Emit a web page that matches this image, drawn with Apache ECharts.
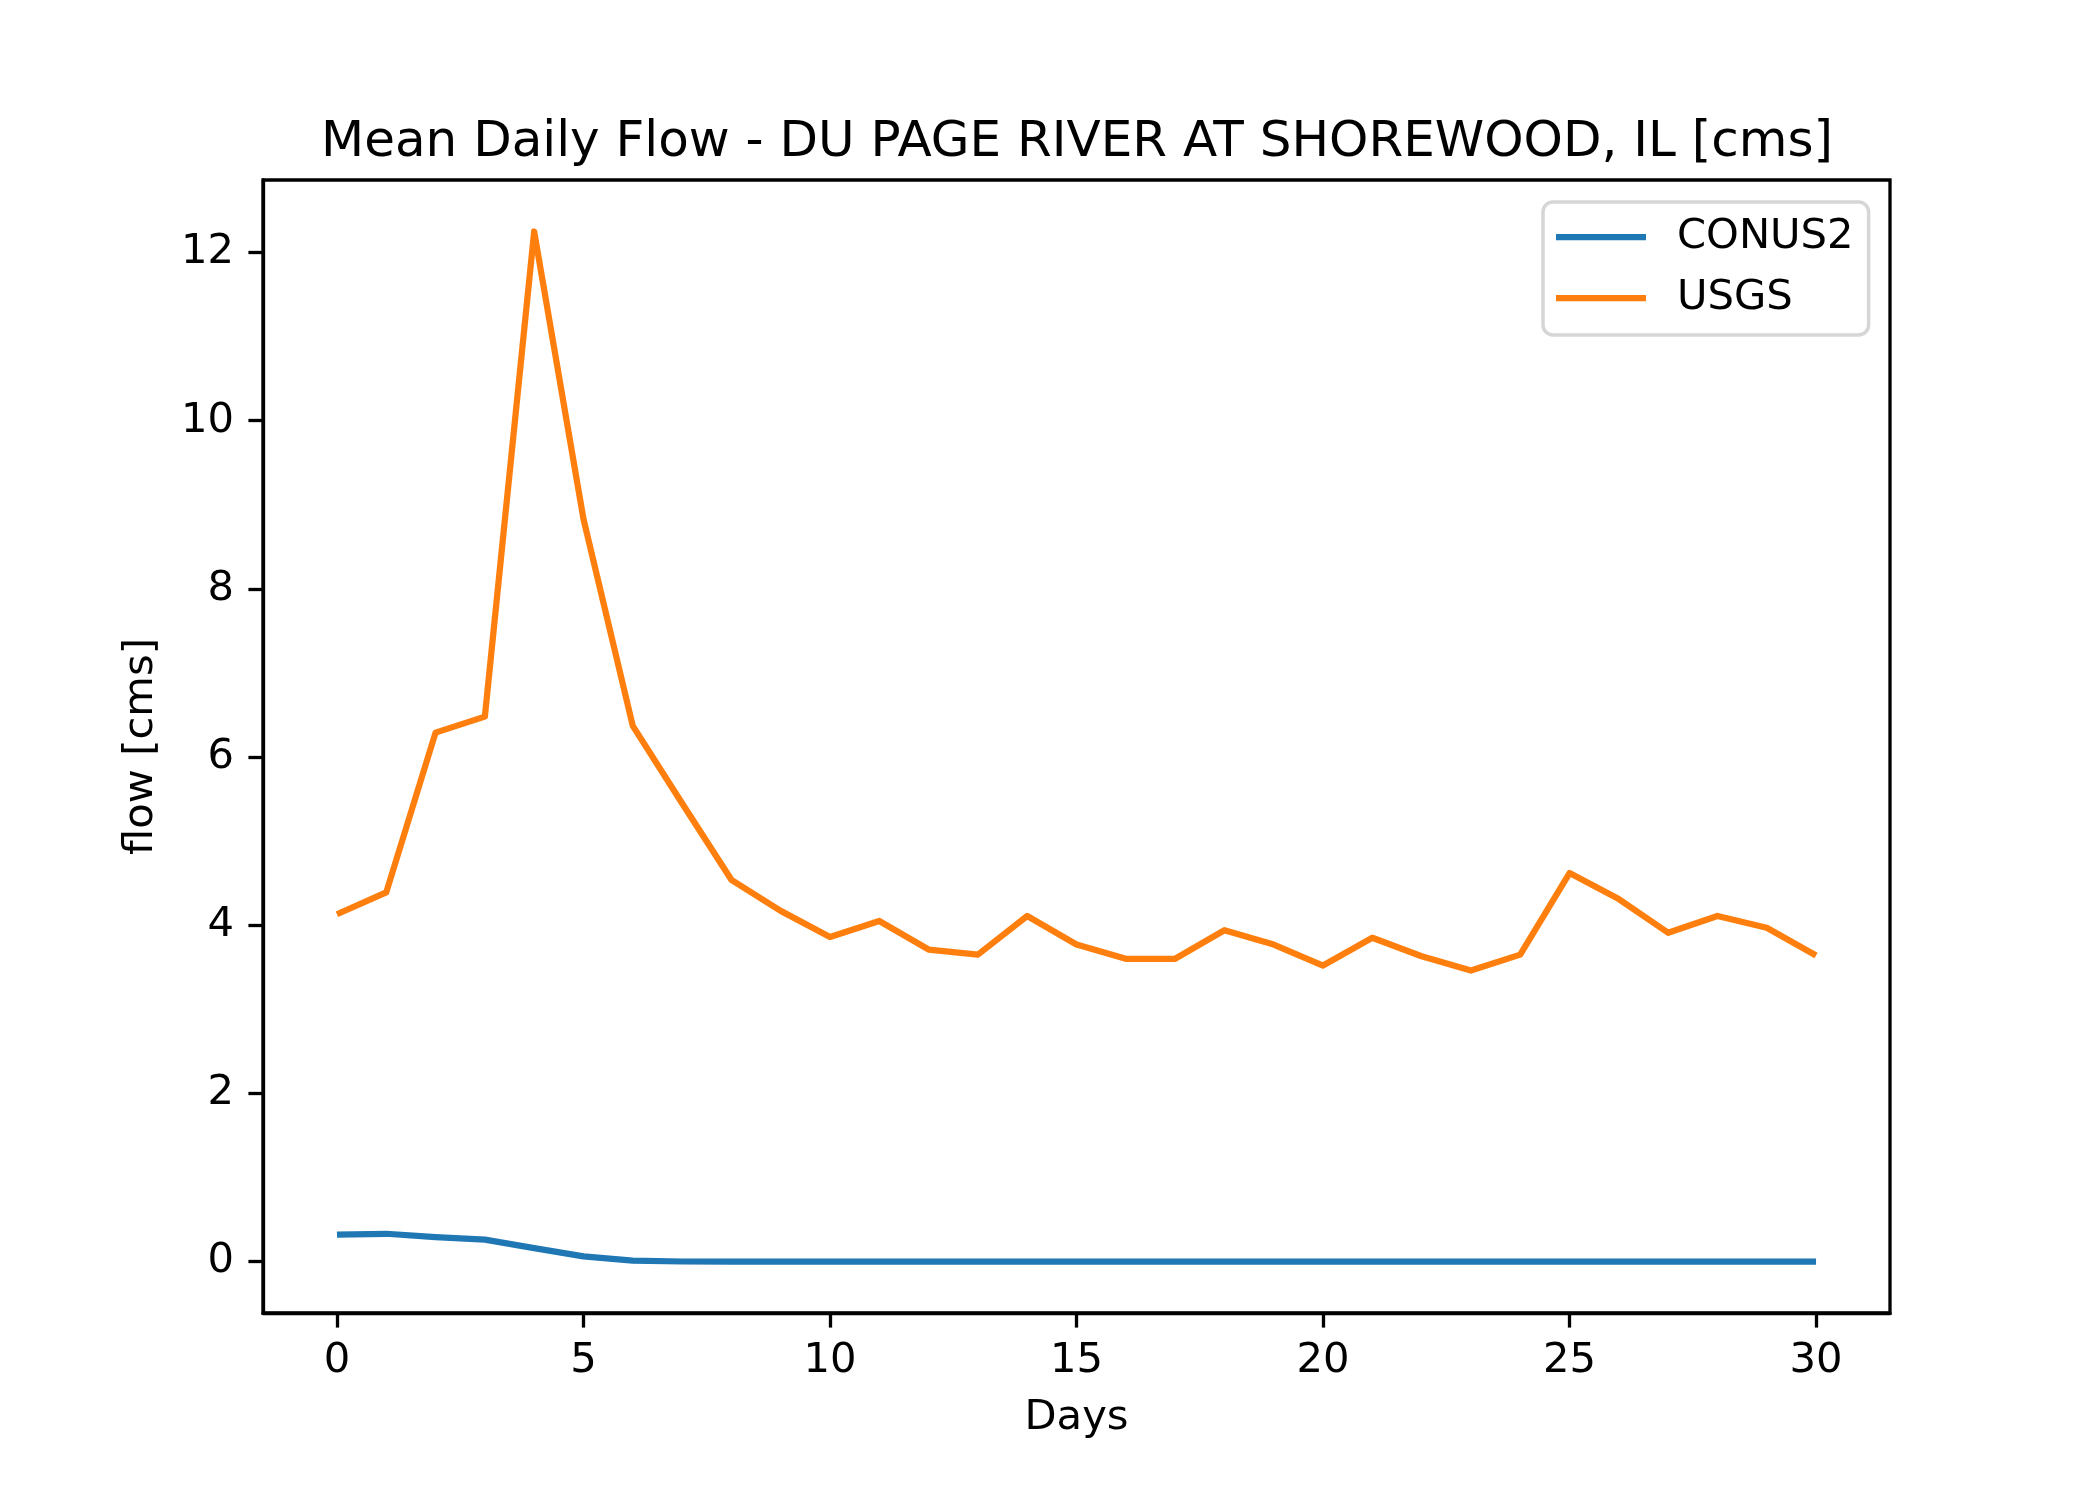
<!DOCTYPE html>
<html>
<head>
<meta charset="utf-8">
<script src="https://cdn.jsdelivr.net/npm/echarts@6/dist/echarts.min.js"></script>
<style>
  html, body { margin: 0; padding: 0; background: #ffffff; }
  #chart { width: 2100px; height: 1500px; }
</style>
</head>
<body>
<div id="chart"></div>
<script>
// ---- data ----
const days = [0,1,2,3,4,5,6,7,8,9,10,11,12,13,14,15,16,17,18,19,20,21,22,23,24,25,26,27,28,29,30];
const conus2 = [0.32,0.33,0.29,0.26,0.16,0.06,0.01,0.00,0.00,0.00,0.00,0.00,0.00,0.00,0.00,0.00,0.00,0.00,0.00,0.00,0.00,0.00,0.00,0.00,0.00,0.00,0.00,0.00,0.00,0.00,0.00];
const usgs = [4.13,4.39,6.29,6.48,12.25,8.83,6.37,5.45,4.54,4.17,3.86,4.05,3.71,3.65,4.11,3.77,3.60,3.60,3.94,3.77,3.52,3.85,3.63,3.46,3.65,4.62,4.31,3.91,4.11,3.97,3.64];
const xTicks = [0,5,10,15,20,25,30];
const yTicks = [0,2,4,6,8,10,12];
const seriesNames = ['CONUS2','USGS'];
const titleText = 'Mean Daily Flow - DU PAGE RIVER AT SHOREWOOD, IL [cms]';
const xLabel = 'Days';
const yLabel = 'flow [cms]';

const FONT = 'DejaVu Sans';
const TICK_FS = 41.7;

function pairs(xs, ys) { return xs.map((x, i) => [x, ys[i]]); }

const chart = echarts.init(document.getElementById('chart'), null, { renderer: 'canvas' });
chart.setOption({
  animation: false,
  backgroundColor: '#ffffff',
  textStyle: { fontFamily: FONT },
  title: {
    text: titleText,
    left: 1072,
    textAlign: 'center',
    top: 113,
    textStyle: { fontFamily: FONT, fontSize: 50, fontWeight: 'normal', color: '#000000' }
  },
  legend: {
    orient: 'vertical',
    left: 1543,
    top: 202,
    data: seriesNames,
    icon: 'rect',
    itemWidth: 90,
    itemHeight: 6.25,
    itemGap: 13,
    padding: [11, 15, 13, 13],
    borderColor: '#d6d6d6',
    borderWidth: 3.5,
    borderRadius: 10,
    backgroundColor: 'rgba(255,255,255,0.8)',
    textStyle: { fontFamily: FONT, fontSize: TICK_FS, color: '#000000', lineHeight: 48, padding: [0, 0, 0, 26] }
  },
  grid: {
    left: 263,
    right: 210,
    top: 180,
    bottom: 187,
    show: true,
    borderColor: '#000000',
    borderWidth: 3.3,
    backgroundColor: 'transparent'
  },
  xAxis: {
    type: 'value',
    min: -1.5,
    max: 31.5,
    name: xLabel,
    nameLocation: 'middle',
    nameGap: 84,
    nameTextStyle: { fontFamily: FONT, fontSize: TICK_FS, color: '#000000' },
    axisLine: { show: true, onZero: false, lineStyle: { color: '#000000', width: 3.3 } },
    axisTick: { show: true, inside: false, length: 14.6, customValues: xTicks, lineStyle: { color: '#000000', width: 3.3 } },
    axisLabel: { show: true, margin: 27, customValues: xTicks, fontFamily: FONT, fontSize: TICK_FS, color: '#000000' },
    splitLine: { show: false }
  },
  yAxis: {
    type: 'value',
    min: -0.6125,
    max: 12.8625,
    name: yLabel,
    nameLocation: 'middle',
    nameRotate: 90,
    nameGap: 101,
    nameTextStyle: { fontFamily: FONT, fontSize: TICK_FS, color: '#000000' },
    axisLine: { show: true, onZero: false, lineStyle: { color: '#000000', width: 3.3 } },
    axisTick: { show: true, inside: false, length: 14.6, customValues: yTicks, lineStyle: { color: '#000000', width: 3.3 } },
    axisLabel: { show: true, margin: 29, customValues: yTicks, fontFamily: FONT, fontSize: TICK_FS, color: '#000000' },
    splitLine: { show: false }
  },
  series: [
    {
      name: seriesNames[0],
      type: 'line',
      data: pairs(days, conus2),
      showSymbol: false,
      symbol: 'none',
      color: '#1f77b4',
      lineStyle: { color: '#1f77b4', width: 6.25, cap: 'butt', join: 'round' },
      z: 3
    },
    {
      name: seriesNames[1],
      type: 'line',
      data: pairs(days, usgs),
      showSymbol: false,
      symbol: 'none',
      color: '#ff7f0e',
      lineStyle: { color: '#ff7f0e', width: 6.25, cap: 'butt', join: 'round' },
      z: 3
    }
  ]
});
</script>
</body>
</html>
